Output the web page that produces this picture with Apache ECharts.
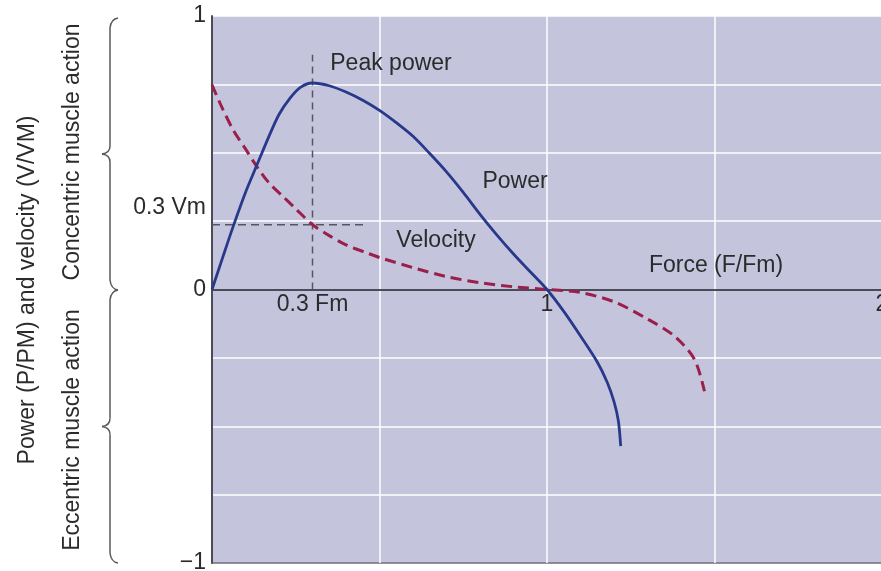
<!DOCTYPE html>
<html>
<head>
	<meta charset="utf-8">
	<title>Power and velocity vs force</title>
	<script type="text/javascript" src="https://cdn.jsdelivr.net/npm/echarts@6/dist/echarts.min.js"></script>
	<style>
		html, body { margin: 0; padding: 0; background: #fff; }
	</style>
</head>
<body>
	<div id="mychar" style="width: 881px;height:571px;"></div>

	<script type="text/javascript">
		// power curve (P/PM) against force (F/Fm)
		var powerForce = [0, 0.03, 0.063, 0.1, 0.134, 0.17, 0.2, 0.233, 0.265, 0.3, 0.35, 0.4, 0.45, 0.5, 0.55, 0.6, 0.65, 0.7, 0.75, 0.8, 0.85, 0.9, 0.95, 1.0, 1.05, 1.1, 1.15, 1.18, 1.2, 1.213, 1.22];
		var powerValue = [0, 0.11, 0.23, 0.355, 0.455, 0.56, 0.64, 0.70, 0.74, 0.755, 0.745, 0.722, 0.692, 0.655, 0.61, 0.56, 0.497, 0.43, 0.355, 0.275, 0.2, 0.13, 0.065, 0, -0.08, -0.17, -0.265, -0.34, -0.41, -0.48, -0.573];

		// velocity curve (V/VM) against force
		var velForce = [0, 0.03, 0.063, 0.1, 0.134, 0.17, 0.212, 0.25, 0.3, 0.35, 0.4, 0.46, 0.5, 0.6, 0.7, 0.8, 0.9, 1.0, 1.1, 1.2, 1.3, 1.38, 1.44, 1.47];
		var velValue = [0.748, 0.665, 0.584, 0.514, 0.449, 0.39, 0.34, 0.295, 0.237, 0.197, 0.163, 0.135, 0.117, 0.08, 0.047, 0.025, 0.01, 0, -0.011, -0.045, -0.108, -0.17, -0.255, -0.372];

		// dashed guides through the 0.3 Fm point
		var guideV = [[0.3, 0], [0.3, 0.858]];
		var guideH = [[0, 0.237], [0.463, 0.237]];

		var xTickValues = [0.3, 1, 2];
		var xTickLabels = ['0.3 Fm', '1', '2'];
		var yTickValues = [-1, 0, 0.3, 1];
		var yTickLabels = ['\u22121', '0', '0.3 Vm', '1'];

		function zip(xs, ys) {
			var d = [];
			for (var i = 0; i < xs.length; i++) d.push([xs[i], ys[i]]);
			return d;
		}
		function lookup(vals, labels) {
			return function (v) {
				for (var i = 0; i < vals.length; i++) {
					if (Math.abs(vals[i] - v) < 1e-6) return labels[i];
				}
				return '';
			};
		}

		var FONT = '"Liberation Sans", Arial, Helvetica, sans-serif';
		var braceColor = '#5a5a5a';

		// curly brace drawn from bezier pieces
		function brace(x, y1, y2) {
			var mid = (y1 + y2) / 2;
			var st = { stroke: braceColor, lineWidth: 1.5, fill: null };
			return [
				{ type: 'bezierCurve', shape: { x1: x + 8, y1: y1, cpx1: x + 1, cpy1: y1 + 1, x2: x, y2: y1 + 10 }, style: st },
				{ type: 'line', shape: { x1: x, y1: y1 + 10, x2: x, y2: mid - 8 }, style: st },
				{ type: 'bezierCurve', shape: { x1: x, y1: mid - 8, cpx1: x, cpy1: mid - 1, x2: x - 8, y2: mid }, style: st },
				{ type: 'bezierCurve', shape: { x1: x - 8, y1: mid, cpx1: x, cpy1: mid + 1, x2: x, y2: mid + 8 }, style: st },
				{ type: 'line', shape: { x1: x, y1: mid + 8, x2: x, y2: y2 - 10 }, style: st },
				{ type: 'bezierCurve', shape: { x1: x, y1: y2 - 10, cpx1: x + 1, cpy1: y2 - 1, x2: x + 8, y2: y2 }, style: st }
			];
		}

		function label(text, x, y, rot) {
			return {
				type: 'text', x: x, y: y, rotation: rot || 0, z: 100,
				style: {
					text: text, fill: '#2b2b2b', font: '23px ' + FONT,
					textAlign: 'center', textVerticalAlign: 'middle'
				}
			};
		}

		var graphics = []
			.concat(brace(110, 18, 290))
			.concat(brace(110, 290, 563))
			.concat([
				label('Power (P/PM) and velocity (V/VM)', 28, 290, Math.PI / 2),
				label('Concentric muscle action', 73, 152, Math.PI / 2),
				label('Eccentric muscle action', 73, 430, Math.PI / 2),
				label('Peak power', 391, 64),
				label('Power', 515, 182),
				label('Velocity', 436, 241),
				label('Force (F/Fm)', 716, 266)
			]);

		// bottom split line (-1) is the darker frame edge, the rest are white
		var hLineColors = ['#6e6e78', '#fff', '#fff', '#fff', '#fff', '#fff', '#fff', '#fff', '#fff'];

		var mychar = echarts.init(document.getElementById("mychar"));
		var option = {
			animation: false,
			backgroundColor: '#ffffff',
			grid: {
				left: 212, top: 16, width: 670, height: 547,
				containLabel: false, outerBoundsMode: 'none',
				show: true, backgroundColor: '#c4c5dc', borderWidth: 0
			},
			xAxis: {
				type: 'value', min: 0, max: 2, interval: 0.5,
				axisLine: { onZero: true, lineStyle: { color: '#4a4a58', width: 2 } },
				axisTick: { show: false },
				splitLine: { show: true, lineStyle: { color: '#ffffff', width: 1.5 } },
				axisLabel: { show: false }
			},
			yAxis: {
				type: 'value', min: -1, max: 1, interval: 0.25,
				axisLine: { show: true, lineStyle: { color: '#4a4a58', width: 2 } },
				axisTick: { show: false },
				splitLine: { show: true, lineStyle: { color: hLineColors, width: 1.5 } },
				axisLabel: {
					customValues: yTickValues,
					formatter: lookup(yTickValues, yTickLabels),
					color: '#2b2b2b', fontSize: 23, fontFamily: FONT, margin: 6
				}
			},
			graphic: graphics,
			series: [
				{
					name: 'guideV', type: 'line', data: guideV, showSymbol: false, silent: true,
					lineStyle: { color: '#555560', width: 1.5, type: [7, 5] }
				},
				{
					name: 'guideH', type: 'line', data: guideH, showSymbol: false, silent: true,
					lineStyle: { color: '#555560', width: 1.5, type: [8, 5] }
				},
				{
					name: 'Velocity', type: 'line', data: zip(velForce, velValue),
					showSymbol: false, smooth: 0.3,
					lineStyle: { color: '#9a1f4c', width: 3, type: [11, 6] }
				},
				{
					name: 'Power', type: 'line', data: zip(powerForce, powerValue),
					showSymbol: false, smooth: 0.3,
					lineStyle: { color: '#28398c', width: 2.8 }
				}
			]
		};

		mychar.setOption(option);

		// force tick labels sit just under the zero line; place them through the axis scale
		var xLabelEls = xTickValues.map(function (v, i) {
			var p = mychar.convertToPixel({ gridIndex: 0 }, [v, 0]);
			return label(xTickLabels[i], p[0], p[1] + 15);
		});
		mychar.setOption({ graphic: graphics.concat(xLabelEls) });
	</script>
</body>
</html>
